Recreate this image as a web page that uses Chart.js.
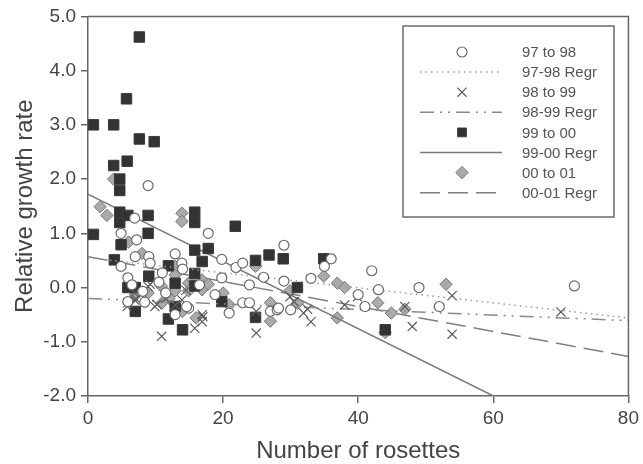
<!DOCTYPE html>
<html>
<head>
<meta charset="utf-8">
<script src="https://cdn.jsdelivr.net/npm/chart.js@4/dist/chart.umd.min.js"></script>
<style>
  html, body { margin: 0; padding: 0; background: #fff; }
  #wrap { width: 643px; height: 464px; }
</style>
</head>
<body>
<div id="wrap"><canvas id="chart" width="643" height="464"></canvas></div>
<script>
// Points: [number of rosettes, relative growth rate]
const pts9798 = [
  [8.9, 1.88], [4.9, 1.0], [6.9, 1.28], [7.2, 0.88], [7, 0.57], [9, 0.57], [9.2, 0.45],
  [4.9, 0.39], [5.9, 0.18], [5.9, -0.26], [8.4, -0.27], [8.1, -0.07], [11, 0.27],
  [12.9, 0.62], [13.9, 0.45], [14, 0.34], [14.9, -0.38], [12.9, -0.5], [14.6, -0.35],
  [11.5, -0.1], [17.8, 1.0], [19.8, 0.52], [19.8, 0.18], [18.8, -0.13], [20.9, -0.47],
  [21.9, 0.37], [22.9, 0.45], [23.9, 0.05], [22.9, -0.28], [23.9, -0.28], [26, 0.19],
  [27, -0.44], [28, -0.41], [29, 0.78], [29, 0.12], [30, -0.41], [28.2, -0.38],
  [33, 0.17], [35, 0.39], [36, 0.53], [40, -0.13], [41, -0.35], [42, 0.31], [43, -0.04],
  [49, 0.0], [52, -0.35], [72, 0.03], [16.5, 0.05], [10.5, 0.1], [6.5, 0.05]
];
const pts9899 = [
  [5.8, -0.35], [6.9, -0.23], [6.9, -0.1], [8.9, 0.02], [9.2, 0.06], [5.9, -0.28],
  [7.2, -0.22], [9.9, -0.35], [10.2, -0.31], [10.9, -0.9], [12.9, -0.32], [13.9, -0.23],
  [15.8, -0.75], [16.9, -0.5], [16.9, -0.63], [17, -0.54], [24.9, -0.84], [24.9, -0.44],
  [29.9, -0.17], [30.5, -0.26], [31.9, -0.47], [32.5, -0.4], [33, -0.63], [38, -0.32],
  [39.9, -0.17], [46.9, -0.35], [48, -0.72], [53.9, -0.15], [53.9, -0.86], [70, -0.45],
  [11.5, -0.2], [14.5, -0.05]
];
const pts9900 = [
  [0.8, 3.0], [3.8, 3.0], [7.6, 4.62], [5.7, 3.48], [3.8, 2.25], [5.8, 2.33], [7.6, 2.74],
  [9.8, 2.69], [4.7, 2.0], [4.7, 1.79], [4.7, 1.39], [4.7, 1.2], [5.9, 1.33], [8.9, 1.33],
  [8.9, 1.0], [0.8, 0.98], [4.9, 0.79], [3.9, 0.51], [9.0, 0.21], [5.9, 0.0], [7.0, 0.0],
  [7.0, -0.44], [11.9, 0.4], [11.9, -0.58], [12.9, 0.08], [12.9, -0.35], [14, -0.78],
  [15.8, 1.39], [15.8, 1.2], [15.8, 0.69], [15.8, 0.26], [15.8, 0.03], [16.9, 0.48],
  [17.8, 0.72], [19.8, -0.26], [21.8, 1.13], [24.8, 0.5], [24.8, -0.55], [26.8, 0.6],
  [28.9, 0.53], [31, 0.0], [34.9, 0.53], [44, -0.78]
];
const pts0001 = [
  [3.8, 2.0], [1.8, 1.49], [2.8, 1.33], [6, 0.84], [8, 0.63], [13.9, 1.37], [13.9, 1.22],
  [12.9, 0.39], [12.9, 0.23], [10.9, 0.02], [10.9, -0.29], [12.9, -0.06], [14.9, 0.08],
  [14.9, -0.06], [14, -0.44], [16, -0.56], [16.9, 0.14], [16.9, -0.04], [17.8, 0.06],
  [7, -0.13], [8.9, -0.1], [20, -0.1], [20.9, -0.32], [24.8, 0.39], [27, -0.28],
  [27, -0.62], [29.9, -0.06], [31, -0.29], [34.9, 0.21], [36.9, 0.08], [38, 0.0],
  [36.9, -0.56], [42.9, -0.28], [44.9, -0.47], [44, -0.83], [46.9, -0.4], [53, 0.06],
  [15.5, 0.15], [12, -0.2]
];
// regression line end points
const reg9798 = [[0, 0.55], [80, -0.56]];
const reg9899 = [[0, -0.2], [80, -0.61]];
const reg9900 = [[0, 1.72], [60, -2.0]];
const reg0001 = [[0, 0.57], [80, -1.27]];

const xTicks = [0, 20, 40, 60, 80];
const yTicks = [-2, -1, 0, 1, 2, 3, 4, 5];

const toXY = arr => arr.map(p => ({ x: p[0], y: p[1] }));
const FONT = "'Liberation Sans', Arial, sans-serif";

function regLine(label, pts, color, dash) {
    return {
        label: label,
        data: toXY(pts),
        showLine: true,
        borderColor: color,
        borderWidth: 1.5,
        borderDash: dash,
        pointRadius: 0,
        fill: false
    };
}

const datasets = [
    { label: '97 to 98', data: toXY(pts9798), pointStyle: 'circle', pointRadius: 5,
      backgroundColor: '#fff', borderColor: '#6a6a6a', borderWidth: 1.2 },
    regLine('97-98 Regr', reg9798, '#9a9a9a', [1.5, 4]),
    { label: '98 to 99', data: toXY(pts9899), pointStyle: 'crossRot', pointRadius: 6.5,
      backgroundColor: '#5a5a5a', borderColor: '#5a5a5a', borderWidth: 1.2 },
    regLine('98-99 Regr', reg9899, '#8a8a8a', [14, 6, 2, 6, 2, 6]),
    { label: '99 to 00', data: toXY(pts9900), pointStyle: 'rect', pointRadius: 7.4,
      backgroundColor: '#333', borderColor: '#3a3a3a', borderWidth: 1 },
    regLine('99-00 Regr', reg9900, '#7a7a7a', []),
    { label: '00 to 01', data: toXY(pts0001), pointStyle: 'rectRot', pointRadius: 6.2,
      backgroundColor: '#aaaaaa', borderColor: '#777', borderWidth: 1 },
    regLine('00-01 Regr', reg0001, '#808080', [20, 8])
];

// frame on top / right and the boxed legend
const framePlugin = {
    id: 'frameAndLegend',
    afterDraw(chart) {
        const { ctx, chartArea: a } = chart;
        ctx.save();
        ctx.strokeStyle = '#666';
        ctx.lineWidth = 1.5;
        ctx.beginPath();
        ctx.moveTo(a.left, a.top);
        ctx.lineTo(a.right, a.top);
        ctx.lineTo(a.right, a.bottom);
        ctx.stroke();

        // legend box
        const bx = 403, by = 26, bw = 211, bh = 191;
        ctx.fillStyle = '#fff';
        ctx.fillRect(bx, by, bw, bh);
        ctx.strokeStyle = '#6a6a6a';
        ctx.lineWidth = 1.5;
        ctx.strokeRect(bx, by, bw, bh);

        ctx.font = '15px ' + FONT;
        ctx.textBaseline = 'middle';
        ctx.textAlign = 'left';
        chart.data.datasets.forEach((ds, i) => {
            const y = 52 + i * 20.1;
            if (ds.showLine) {
                ctx.save();
                ctx.strokeStyle = ds.borderColor;
                ctx.lineWidth = ds.borderWidth;
                ctx.setLineDash(ds.borderDash);
                ctx.beginPath();
                ctx.moveTo(420, y);
                ctx.lineTo(502, y);
                ctx.stroke();
                ctx.restore();
            } else {
                ctx.save();
                ctx.fillStyle = ds.backgroundColor;
                ctx.strokeStyle = ds.borderColor;
                ctx.lineWidth = ds.borderWidth;
                Chart.helpers.drawPoint(ctx, {
                    pointStyle: ds.pointStyle,
                    radius: ds.pointStyle === 'rect' ? 6.2 : ds.pointRadius,
                    rotation: 0,
                    borderWidth: ds.borderWidth
                }, 462, y);
                ctx.restore();
            }
            ctx.fillStyle = '#555';
            ctx.fillText(ds.label, 522, y + 1);
        });
        ctx.restore();
    }
};

new Chart(document.getElementById('chart'), {
    type: 'scatter',
    data: { datasets: datasets },
    options: {
        responsive: false,
        animation: false,
        layout: { padding: { top: 16, right: 13, left: 0, bottom: 0 } },
        plugins: { legend: { display: false }, tooltip: { enabled: false } },
        scales: {
            x: {
                type: 'linear',
                min: 0, max: 80,
                afterBuildTicks: s => { s.ticks = xTicks.map(v => ({ value: v })); },
                afterFit: s => { s.height = 68; },
                grid: { display: true, drawOnChartArea: false, drawTicks: true, tickLength: 7, color: '#666', lineWidth: 1.5 },
                border: { display: true, color: '#666', width: 1.5 },
                ticks: { color: '#444', padding: 4, font: { family: FONT, size: 19 }, maxRotation: 0 },
                title: { display: true, text: 'Number of rosettes', color: '#444',
                         font: { family: FONT, size: 24 }, padding: { top: 0, bottom: -2 } }
            },
            y: {
                min: -2, max: 5,
                afterBuildTicks: s => { s.ticks = yTicks.map(v => ({ value: v })); },
                afterFit: s => { s.width = 88; },
                grid: { display: true, drawOnChartArea: false, drawTicks: true, tickLength: 7, color: '#666', lineWidth: 1.5 },
                border: { display: true, color: '#666', width: 1.5 },
                ticks: { color: '#444', padding: 5, font: { family: FONT, size: 19 },
                         callback: v => v.toFixed(1) },
                title: { display: true, text: 'Relative growth rate', color: '#444',
                         font: { family: FONT, size: 24 }, padding: { top: 11, bottom: 0 } }
            }
        }
    },
    plugins: [framePlugin]
});
</script>
</body>
</html>
